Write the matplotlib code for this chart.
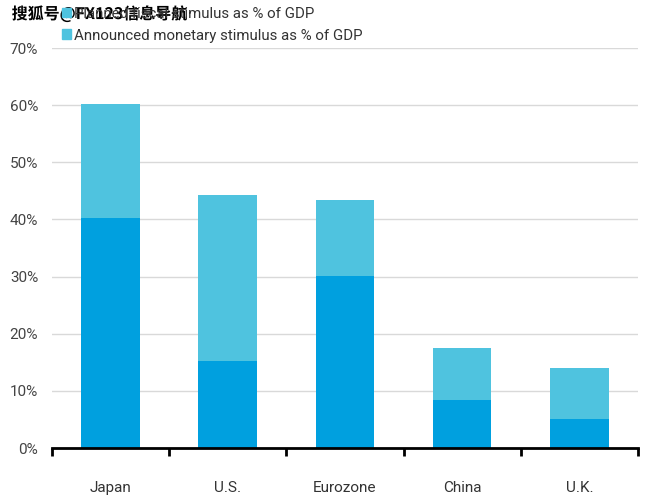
import matplotlib
matplotlib.use('Agg')
import matplotlib.pyplot as plt
import matplotlib.patheffects as pe
from matplotlib.patches import Patch
import numpy as np

# ---data---
regions = ['Japan', 'U.S.', 'Eurozone', 'China', 'U.K.']
monetary = [40.3, 15.2, 30.1, 8.4, 5.1]   # announced monetary stimulus, % of GDP
total = [60.2, 44.3, 43.4, 17.5, 14.0]    # top of stacked bar
fiscal = [t - m for t, m in zip(total, monetary)]
y_ticks = [0, 10, 20, 30, 40, 50, 60, 70]
legend_labels = ['Planned fiscal stimulus as % of GDP', 'Announced monetary stimulus as % of GDP']
watermark = '搜狐号@FX123信息导航'

dark_blue = '#00a0df'
light_blue = '#4fc3df'

plt.rcParams['font.family'] = ['Roboto', 'DejaVu Sans']

fig = plt.figure(figsize=(6.5, 5), dpi=100)
ax = fig.add_axes([0.08, 0.104, 0.9015, 0.80])

x = np.arange(len(regions))
ax.bar(x, monetary, width=0.5, color=dark_blue, zorder=3)
ax.bar(x, fiscal, width=0.5, bottom=monetary, color=light_blue, zorder=3)

ax.set_xlim(-0.5, len(regions) - 0.5)
ax.set_ylim(0, 70)
ax.set_yticks(y_ticks)
ax.set_yticklabels([f'{v}%' for v in y_ticks], fontsize=11, color='#444444')
ax.yaxis.grid(True, color='#d9d9d9', linewidth=1, zorder=0)
ax.tick_params(axis='y', length=0, pad=10)

# boundary ticks below the baseline, labels in the middle
ax.set_xticks(np.arange(-0.5, len(regions), 1.0))
ax.set_xticklabels([])
ax.set_xticks(x, minor=True)
ax.set_xticklabels(regions, minor=True, fontsize=11, color='#333333')
ax.tick_params(axis='x', which='major', direction='out', length=6, width=2, color='black')
ax.tick_params(axis='x', which='minor', length=0, pad=24)

for s in ['top', 'right', 'left']:
    ax.spines[s].set_visible(False)
ax.spines['bottom'].set_linewidth(2)
ax.spines['bottom'].set_zorder(4)

handles = [Patch(color=light_blue), Patch(color=light_blue)]
fig.legend(handles, legend_labels, loc='upper left', bbox_to_anchor=(0.075, 1.013),
           frameon=False, fontsize=10.8, handlelength=0.6, handleheight=0.6,
           handletextpad=0.2, labelspacing=0.5, labelcolor='#333333')

fig.text(0.018, 0.972, watermark, fontsize=11.5, fontweight='bold', color='black',
         family=['Noto Sans CJK SC', 'DejaVu Sans'], va='center', ha='left',
         path_effects=[pe.withStroke(linewidth=3, foreground='white')])

plt.savefig('out.png', dpi=100)
